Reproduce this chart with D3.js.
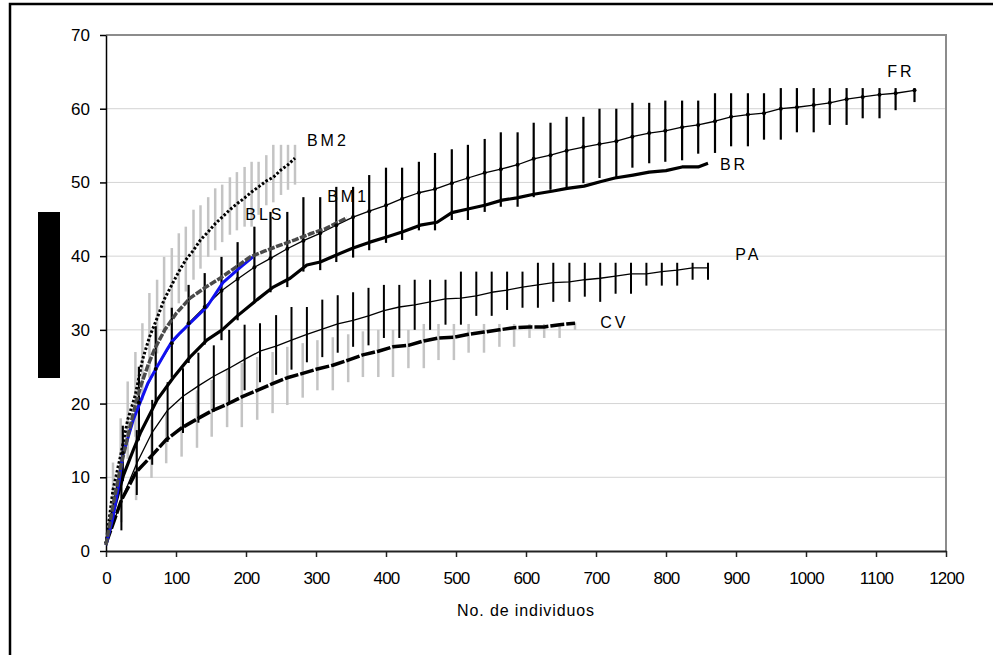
<!DOCTYPE html>
<html>
<head>
<meta charset="utf-8">
<script src="https://cdn.jsdelivr.net/npm/d3@7"></script>
<style>
    body { margin: 0; background: #fff; }
    text { font-family: Arial, 'Liberation Sans', sans-serif; fill: #000; }
</style>
</head>
<body>
<script>
// axis ticks
const xTicks = [0, 100, 200, 300, 400, 500, 600, 700, 800, 900, 1000, 1100, 1200];
const yTicks = [0, 10, 20, 30, 40, 50, 60, 70];

// FR: thin line with dots and black error bars
const frX = [0, 24, 47, 71, 94, 118, 141, 165, 188, 212, 235, 259, 282, 306, 329, 353, 376, 400, 423, 447, 470, 494, 517, 541, 564, 588, 611, 635, 658, 682, 705, 729, 752, 776, 799, 823, 846, 870, 893, 917, 940, 964, 987, 1011, 1034, 1058, 1081, 1105, 1128, 1155];
const frY = [1, 13.3, 20.1, 24.7, 28.2, 30.9, 33.1, 35.3, 36.9, 38.5, 39.7, 41.0, 42.1, 43.1, 44.2, 45.3, 46.1, 46.9, 47.8, 48.6, 49.1, 49.9, 50.6, 51.3, 51.8, 52.4, 53.2, 53.7, 54.3, 54.8, 55.2, 55.6, 56.2, 56.7, 57.0, 57.5, 57.8, 58.3, 58.9, 59.2, 59.4, 60.0, 60.2, 60.5, 60.8, 61.3, 61.6, 61.9, 62.1, 62.5];
const frHi = [null, 17, 25, 30.5, 33, 36.1, 37.7, 39.9, 41.9, 44.0, 46.0, 46.0, 48.0, 48.0, 49.4, 49.4, 51.0, 52.0, 52.0, 52.8, 54.0, 54.5, 55.1, 55.9, 56.8, 56.8, 58.1, 58.1, 58.9, 58.9, 60.0, 60.0, 60.8, 60.8, 61.1, 61.1, 61.1, 62.1, 62.1, 62.1, 62.1, 62.8, 62.8, 62.8, 62.8, 62.8, 62.8, 62.8, 62.8, 62.8];
const frLo = [null, 9.5, 15, 20, 23.5, 25.5, 28, 28.6, 31.3, 33.6, 35.1, 35.8, 37.9, 38.1, 39.2, 39.8, 40.8, 41.8, 42.2, 43.5, 43.5, 44.9, 44.9, 46.0, 46.7, 46.7, 48.0, 49.0, 49.1, 49.9, 50.6, 50.7, 52.0, 52.6, 52.8, 53.0, 53.9, 54.0, 54.9, 54.9, 55.8, 55.8, 56.8, 56.8, 57.8, 57.8, 58.7, 58.7, 59.8, 60.9];

// BR: thick solid line
const brX = [0, 10, 25, 39, 49, 73, 96, 120, 144, 166, 189, 216, 239, 263, 287, 306, 330, 353, 377, 401, 424, 449, 473, 494, 517, 541, 566, 587, 611, 637, 659, 683, 706, 727, 753, 776, 800, 823, 846, 860];
const brY = [1, 5.2, 10.3, 13.7, 16.0, 20.5, 23.5, 26.3, 28.6, 30.0, 32.0, 34.1, 35.8, 37.0, 38.8, 39.2, 40.2, 41.1, 41.9, 42.6, 43.3, 44.2, 44.6, 45.9, 46.4, 46.9, 47.6, 47.9, 48.4, 48.8, 49.2, 49.5, 50.1, 50.6, 51.0, 51.4, 51.6, 52.1, 52.1, 52.6];

// PA: thin line with black error bars
const paX = [0, 22, 44, 66, 88, 110, 132, 154, 176, 198, 220, 243, 265, 287, 309, 331, 353, 375, 397, 419, 441, 463, 485, 507, 529, 551, 573, 595, 617, 639, 662, 684, 706, 728, 750, 772, 794, 816, 838, 860];
const paY = [1, 6.9, 11.9, 16.1, 19.1, 21.0, 22.4, 23.7, 24.8, 26.0, 27.1, 27.8, 28.6, 29.4, 30.1, 30.8, 31.3, 31.9, 32.6, 33.1, 33.4, 33.8, 34.2, 34.3, 34.6, 35.1, 35.4, 35.8, 36.1, 36.4, 36.5, 36.8, 37.0, 37.3, 37.6, 37.6, 37.9, 38.1, 38.4, 38.4];
const paHi = [null, 11.0, 16.4, 20.5, 22.9, 24.8, 26.9, 27.9, 30.0, 30.7, 30.9, 32.0, 33.1, 33.1, 34.1, 34.7, 35.1, 35.7, 36.1, 36.1, 36.8, 36.8, 36.8, 37.9, 37.9, 37.9, 37.9, 37.9, 39.1, 39.1, 39.1, 39.1, 39.1, 39.1, 39.1, 39.1, 39.1, 39.1, 39.1, 39.1];
const paLo = [null, 2.8, 7.6, 11.7, 14.8, 16.0, 17.4, 18.9, 20.1, 21.8, 22.9, 23.9, 24.6, 25.6, 26.3, 26.9, 27.7, 27.9, 28.9, 28.9, 30.0, 30.0, 30.7, 30.7, 31.9, 31.9, 32.7, 33.0, 33.0, 33.8, 33.8, 34.5, 33.8, 34.9, 34.9, 36.0, 36.0, 36.0, 36.8, 36.8];

// CV: thick dashed line with grey error bars
const cvX = [0, 22, 43, 65, 86, 108, 130, 151, 173, 194, 216, 238, 259, 281, 302, 324, 346, 367, 389, 410, 432, 454, 475, 497, 518, 540, 562, 583, 605, 626, 648, 670];
const cvY = [1, 6.9, 10.7, 12.9, 15.1, 16.7, 17.9, 19.0, 19.9, 20.9, 21.8, 22.7, 23.5, 24.1, 24.7, 25.2, 25.9, 26.6, 27.1, 27.7, 27.9, 28.5, 28.9, 29.0, 29.4, 29.7, 30.0, 30.3, 30.4, 30.4, 30.7, 30.9];
const cvHi = [null, 12.3, 16.4, 17.8, 18.7, 20.2, 21.8, 23.2, 24.6, 25.5, 26.3, 27.0, 27.7, 28.2, 28.6, 29.0, 29.4, 29.8, 30.0, 30.0, 30.0, 30.8, 30.8, 30.8, 30.8, 30.8, 30.8, 30.8, 30.8, 30.8, 30.8, 31.0];
const cvLo = [null, 3.9, 6.9, 9.9, 11.9, 12.8, 14.0, 15.5, 16.8, 16.8, 17.8, 18.7, 19.8, 20.8, 21.8, 21.8, 22.9, 23.6, 23.6, 23.6, 24.8, 24.8, 25.9, 25.9, 26.9, 26.9, 27.7, 27.7, 28.9, 28.9, 28.9, 30.0];

// BM2: fine dashed line with grey error bars
const bm2X = [0, 10, 21, 31, 42, 52, 62, 73, 83, 94, 104, 114, 125, 135, 146, 156, 166, 177, 187, 198, 208, 218, 229, 239, 250, 260, 270];
const bm2Y = [1, 8.3, 13.0, 17.8, 21.2, 25.9, 29.0, 31.6, 34.1, 36.1, 37.9, 39.5, 40.8, 42.2, 43.3, 44.4, 45.3, 46.3, 47.1, 47.9, 48.7, 49.4, 50.2, 50.7, 51.7, 52.4, 53.3];
const bm2Hi = [null, 12, 18, 23, 27, 30.9, 35.0, 36.8, 39.9, 41.1, 43.1, 44.0, 46.3, 46.9, 48.0, 49.2, 49.7, 50.7, 51.4, 52.1, 52.8, 52.8, 53.7, 55.1, 55.1, 55.1, 55.1];
const bm2Lo = [null, 4.5, 8.5, 12.5, 15.5, 20.5, 23.5, 26.8, 29.5, 31.5, 33.6, 35.2, 36.8, 38.3, 39.9, 40.8, 41.9, 42.9, 43.5, 44.0, 44.0, 45.6, 46.9, 47.3, 48.3, 49.0, 49.7];

// BM1: dark grey dashed line
const bm1X = [0, 10, 20, 30, 40, 50, 60, 70, 84, 100, 120, 141, 163, 184, 206, 227, 249, 270, 291, 313, 344];
const bm1Y = [0.8, 6.2, 11.0, 15.1, 19.1, 22.5, 25.2, 27.5, 30.0, 32.2, 34.3, 35.7, 37.0, 38.4, 39.9, 40.7, 41.5, 42.2, 43.0, 43.7, 45.2];

// BLS: blue line
const blsX = [0, 10, 17, 24, 39, 49, 60, 73, 87, 94, 106, 120, 144, 167, 191, 210];
const blsY = [0.8, 4.6, 8.3, 13.0, 17.8, 20.2, 22.8, 25.0, 27.3, 28.4, 29.6, 30.9, 33.1, 36.4, 38.4, 39.9];

// series labels [text, x, y] in data units
const seriesLabels = [
    ['FR', 1116, 64.3],
    ['BR', 877, 51.7],
    ['BM2', 287, 54.9],
    ['BM1', 316, 47.3],
    ['BLS', 199, 44.9],
    ['PA', 899, 39.5],
    ['CV', 706, 30.3]
];

drawChart();

function toPoints(xs, ys, his, los)
{
    return xs.map((x, i) => ({ x: x, y: ys[i], hi: his ? his[i] : null, lo: los ? los[i] : null }));
}

function drawChart()
{
    const width = 993;
    const height = 655;
    const marginLeft = 106;
    const marginRight = 47;
    const marginTop = 35;
    const marginBottom = 104;

    const svg = d3.select('body')
        .append('svg')
        .attr('width', width)
        .attr('height', height);

    // outer frame (right and bottom edges fall outside the picture)
    svg.append('rect')
        .attr('x', 10).attr('y', 4)
        .attr('width', 1100).attr('height', 800)
        .attr('fill', 'none')
        .attr('stroke', '#000')
        .attr('stroke-width', 2.5);

    const x = d3.scaleLinear().domain([0, 1200]).range([marginLeft, width - marginRight]);
    const y = d3.scaleLinear().domain([0, 70]).range([height - marginBottom, marginTop]);

    // horizontal grid lines
    svg.selectAll('line.grid')
        .data(yTicks.filter(d => d > 0 && d < 70))
        .enter()
        .append('line')
        .attr('class', 'grid')
        .attr('x1', x(0)).attr('x2', x(1200))
        .attr('y1', d => y(d)).attr('y2', d => y(d))
        .attr('stroke', '#d4d4d4')
        .attr('stroke-width', 1);

    // top and right border of the plot area
    svg.append('path')
        .attr('d', `M${x(0)},${y(70)}H${x(1200)}V${y(0)}`)
        .attr('fill', 'none')
        .attr('stroke', '#8c8c8c')
        .attr('stroke-width', 2);

    // x-axis
    const xAxis = svg.append('g')
        .attr('transform', `translate(0,${y(0)})`)
        .call(d3.axisBottom(x).tickValues(xTicks).tickFormat(d3.format('d'))
            .tickSize(6).tickPadding(15).tickSizeOuter(0));
    xAxis.select('.domain').attr('stroke', '#222').attr('stroke-width', 2);
    xAxis.selectAll('.tick line').attr('stroke', '#222').attr('stroke-width', 1.5);
    xAxis.selectAll('text').style('font-size', '17px').attr('fill', '#000').style('letter-spacing', '-0.8px');

    // y-axis
    const yAxis = svg.append('g')
        .attr('transform', `translate(${x(0)},0)`)
        .call(d3.axisLeft(y).tickValues(yTicks).tickSize(6).tickPadding(10).tickSizeOuter(0));
    yAxis.select('.domain').attr('stroke', '#000').attr('stroke-width', 1.5);
    yAxis.selectAll('.tick line').attr('stroke', '#000').attr('stroke-width', 1.5);
    yAxis.selectAll('text').style('font-size', '17px').attr('fill', '#000');

    // x-axis title
    svg.append('text')
        .attr('x', (x(0) + x(1200)) / 2)
        .attr('y', 616)
        .attr('text-anchor', 'middle')
        .style('font-size', '16px')
        .style('letter-spacing', '0.9px')
        .text('No. de individuos');

    // blacked-out y-axis title
    svg.append('rect')
        .attr('x', 38).attr('y', 212)
        .attr('width', 22).attr('height', 166)
        .attr('fill', '#000');

    const fr = toPoints(frX, frY, frHi, frLo);
    const br = toPoints(brX, brY);
    const pa = toPoints(paX, paY, paHi, paLo);
    const cv = toPoints(cvX, cvY, cvHi, cvLo);
    const bm2 = toPoints(bm2X, bm2Y, bm2Hi, bm2Lo);
    const bm1 = toPoints(bm1X, bm1Y);
    const bls = toPoints(blsX, blsY);

    // error bars
    function errorBars(data, color, w, cls)
    {
        svg.selectAll('line.' + cls)
            .data(data.filter(d => d.hi !== null))
            .enter()
            .append('line')
            .attr('class', cls)
            .attr('x1', d => x(d.x)).attr('x2', d => x(d.x))
            .attr('y1', d => y(d.hi)).attr('y2', d => y(d.lo))
            .attr('stroke', color)
            .attr('stroke-width', w);
    }

    errorBars(bm2, '#c4c4c4', 2.5, 'bm2-bar');
    errorBars(cv, '#c4c4c4', 2.5, 'cv-bar');
    errorBars(pa, '#000', 2, 'pa-bar');
    errorBars(fr, '#000', 2.2, 'fr-bar');

    const lineGenerator = d3.line()
        .x(d => x(d.x))
        .y(d => y(d.y));

    function drawLine(data, color, w, dash)
    {
        svg.append('path')
            .datum(data)
            .attr('d', lineGenerator)
            .attr('fill', 'none')
            .attr('stroke', color)
            .attr('stroke-width', w)
            .attr('stroke-linejoin', 'round')
            .attr('stroke-dasharray', dash || null);
    }

    drawLine(cv, '#000', 3.5, '14,2');
    drawLine(pa, '#000', 1.3);
    drawLine(br, '#000', 3.2);
    drawLine(fr, '#000', 1.3);
    drawLine(bm2, '#000', 3, '2.5,2');
    drawLine(bls, '#1010f0', 3);
    drawLine(bm1, '#4a4a4a', 3.5, '7,1.5');

    // FR markers
    svg.selectAll('circle.fr-dot')
        .data(fr.slice(1))
        .enter()
        .append('circle')
        .attr('class', 'fr-dot')
        .attr('cx', d => x(d.x))
        .attr('cy', d => y(d.y))
        .attr('r', 2)
        .attr('fill', '#000');

    // series labels
    svg.selectAll('text.series-label')
        .data(seriesLabels)
        .enter()
        .append('text')
        .attr('class', 'series-label')
        .attr('x', d => x(d[1]))
        .attr('y', d => y(d[2]))
        .style('font-size', '16px')
        .style('letter-spacing', '3px')
        .text(d => d[0]);
}
</script>
</body>
</html>
